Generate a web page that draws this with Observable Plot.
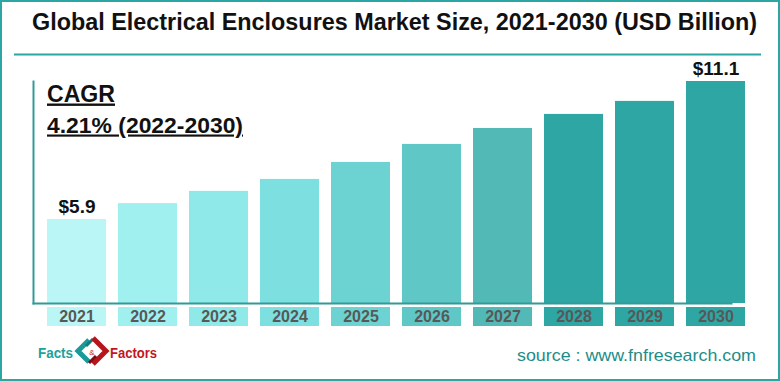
<!DOCTYPE html>
<html>
<head>
<meta charset="utf-8">
<script src="https://cdn.jsdelivr.net/npm/d3@7"></script>
<script src="https://cdn.jsdelivr.net/npm/@observablehq/plot@0.6"></script>
<style>
  html, body { margin: 0; padding: 0; background: #fff; }
  #wrap { position: relative; width: 780px; height: 381px; overflow: hidden; background: #fff; }
  #wrap > svg { position: absolute; left: 0; }
  #border { position: absolute; left: 0; top: 0; width: 780px; height: 381px; box-sizing: border-box; border: 2px solid #2ba6a2; pointer-events: none; }
</style>
</head>
<body>
<div id="wrap"><div id="border"></div></div>
<script>
// ---- data ----
const years = ["2021", "2022", "2023", "2024", "2025", "2026", "2027", "2028", "2029", "2030"];
const values = [5.9, 6.50, 6.96, 7.41, 8.05, 8.73, 9.33, 9.86, 10.35, 11.1];
const labeledYears = ["2021", "2030"];
const palette = ["#b9f6f5", "#a1f0f0", "#8ee9e8", "#7ddfdf", "#6cd3d2", "#5fc7c5", "#53b9b7", "#2ea6a4", "#2ea6a4", "#2ea6a4"];
const titleText = "Global Electrical Enclosures Market Size, 2021-2030 (USD Billion)";
const cagrLabel = "CAGR";
const cagrValue = "4.21% (2022-2030)";
const sourceText = "source : www.fnfresearch.com";
const yFloor = 2.735; // value axis floor implied by the reference bar heights

const data = years.map((year, i) => ({year, value: values[i]}));
const xOpts = {type: "band", domain: years, range: [46, 746], paddingInner: 0.17, paddingOuter: 0, axis: null};
const colorOpts = {domain: years, range: palette};
const axisColor = "#2f9c98";

const wrap = document.getElementById("wrap");

// ---- main bar chart ----
const main = Plot.plot({
  width: 780, height: 381,
  marginTop: 81, marginBottom: 78, marginLeft: 33, marginRight: 49,
  x: xOpts,
  y: {domain: [yFloor, 11.1], axis: null},
  color: colorOpts,
  style: {background: "transparent", fontFamily: "'Liberation Sans', Arial, sans-serif"},
  marks: [
    Plot.barY(data, {x: "year", y1: yFloor, y2: "value", fill: "year"}),
    Plot.frame({anchor: "left", stroke: axisColor, strokeWidth: 2}),
    Plot.frame({anchor: "bottom", stroke: axisColor, strokeWidth: 2}),
    Plot.text(data.filter(d => labeledYears.includes(d.year)), {
      x: "year", y: "value", text: d => "$" + d.value,
      lineAnchor: "bottom", dy: -7, fontSize: 19, fontWeight: "bold", fill: "#111"
    })
  ]
});
main.style.top = "0px";
wrap.appendChild(main);

// ---- year label strip ----
const strip = Plot.plot({
  width: 780, height: 19,
  marginTop: 0, marginBottom: 0, marginLeft: 33, marginRight: 49,
  x: xOpts,
  color: colorOpts,
  style: {background: "transparent", fontFamily: "'Liberation Sans', Arial, sans-serif"},
  marks: [
    Plot.cell(data, {x: "year", fill: "year"}),
    Plot.text(data, {x: "year", text: "year", fontSize: 16, fontWeight: "bold", fill: "#585858"})
  ]
});
strip.style.top = "307px";
wrap.appendChild(strip);

// ---- texts and decorations ----
const deco = d3.create("svg").attr("width", 780).attr("height", 381).style("top", "0px")
  .attr("font-family", "'Liberation Sans', Arial, sans-serif");

deco.append("text").attr("x", 32).attr("y", 30).attr("font-size", 24).attr("font-weight", "bold")
  .attr("fill", "#111").attr("textLength", 725).attr("lengthAdjust", "spacingAndGlyphs").text(titleText);
deco.append("line").attr("x1", 14).attr("x2", 761).attr("y1", 54.5).attr("y2", 54.5)
  .attr("stroke", "#2ba6a2").attr("stroke-width", 2);

deco.append("text").attr("x", 47).attr("y", 101.5).attr("font-size", 24).attr("font-weight", "bold")
  .attr("fill", "#111").attr("textLength", 68).attr("lengthAdjust", "spacingAndGlyphs")
  .attr("text-decoration", "underline").text(cagrLabel);
deco.append("text").attr("x", 47).attr("y", 132.5).attr("font-size", 21.5).attr("font-weight", "bold")
  .attr("fill", "#111").attr("textLength", 196).attr("lengthAdjust", "spacingAndGlyphs")
  .attr("text-decoration", "underline").text(cagrValue);

// logo
const logo = deco.append("g");
logo.append("text").attr("x", 38).attr("y", 358).attr("font-size", 14).attr("font-weight", "bold")
  .attr("fill", "#1ba29d").attr("textLength", 35).attr("lengthAdjust", "spacingAndGlyphs").text("Facts");
logo.append("polyline").attr("points", "89,340 78,351 89,362").attr("fill", "none")
  .attr("stroke", "#1a9b97").attr("stroke-width", 5);
logo.append("polyline").attr("points", "86,346 93,339").attr("fill", "none")
  .attr("stroke", "#0f7f7b").attr("stroke-width", 3);
logo.append("polyline").attr("points", "93,338 106,351 93,364").attr("fill", "none")
  .attr("stroke", "#b8141c").attr("stroke-width", 5);
logo.append("polyline").attr("points", "96,356 89,363").attr("fill", "none")
  .attr("stroke", "#7e0b10").attr("stroke-width", 3);
logo.append("text").attr("x", 92).attr("y", 355).attr("font-size", 8).attr("text-anchor", "middle")
  .attr("fill", "#c4161c").text("&");
logo.append("text").attr("x", 110).attr("y", 358).attr("font-size", 14).attr("font-weight", "bold")
  .attr("fill", "#c4161c").attr("textLength", 47).attr("lengthAdjust", "spacingAndGlyphs").text("Factors");

deco.append("text").attr("x", 517).attr("y", 360.5).attr("font-size", 17)
  .attr("fill", "#1e8d89").attr("textLength", 239).attr("lengthAdjust", "spacingAndGlyphs").text(sourceText);

wrap.appendChild(deco.node());
</script>
</body>
</html>
